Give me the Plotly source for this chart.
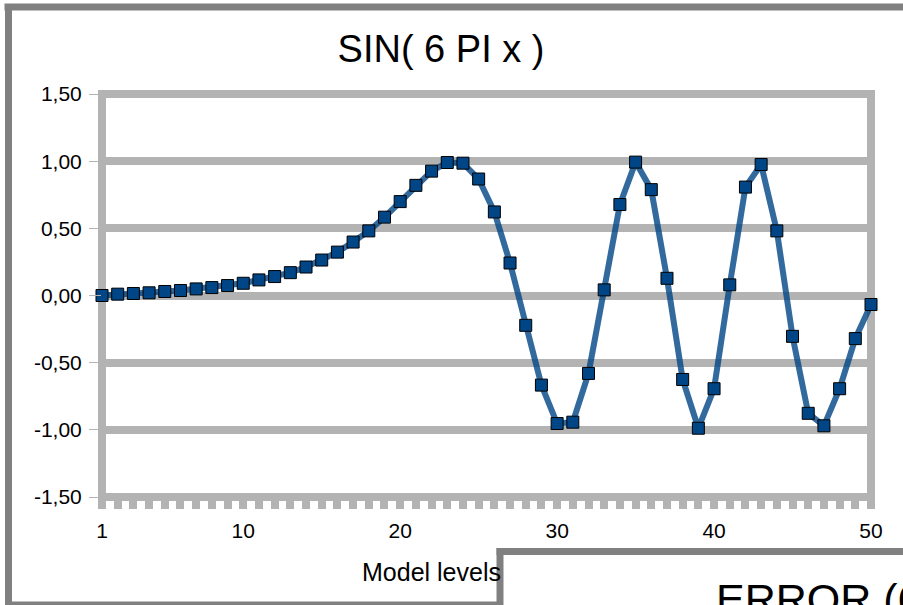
import plotly.graph_objects as go

# ---- data ----
levels = list(range(1, 51))
values = [0.00, 0.01, 0.015, 0.02, 0.03, 0.037, 0.049, 0.059, 0.074, 0.091,
          0.116, 0.141, 0.170, 0.212, 0.264, 0.323, 0.398, 0.481, 0.583, 0.699,
          0.82, 0.926, 0.99, 0.985, 0.867, 0.622, 0.242, -0.222, -0.667, -0.953,
          -0.943, -0.580, 0.042, 0.677, 0.993, 0.788, 0.128, -0.625, -0.988, -0.694,
          0.079, 0.807, 0.975, 0.481, -0.304, -0.877, -0.970, -0.694, -0.321, -0.067]
y_ticks = [-1.5, -1.0, -0.5, 0.0, 0.5, 1.0, 1.5]
y_tick_text = ["-1,50", "-1,00", "-0,50", "0,00", "0,50", "1,00", "1,50"]
x_ticks = [1, 10, 20, 30, 40, 50]
x_tick_text = ["1", "10", "20", "30", "40", "50"]
title_text = "SIN( 6 PI x )"
x_title = "Model levels"
second_title = "ERROR (6 PI x)"

# ---- geometry / style ----
W, H = 903, 605
L, R, T, B = 102, 871, 94, 497


def px(x):
    return (x - L) / (R - L)


def py(y):
    return (B - y) / (B - T)


GRID = "#b3b3b3"
FRAME = "#808080"
FONT = "Liberation Sans, Arial, sans-serif"

fig = go.Figure()
fig.add_trace(go.Scatter(
    x=levels, y=values, mode="lines+markers", cliponaxis=False,
    line=dict(color="rgba(0,69,134,0.8)", width=6),
    marker=dict(symbol="square", size=12, color="#004586",
                line=dict(color="#000000", width=1)),
    showlegend=False,
))


def hline(x0, x1, y, color, width, layer="below"):
    return dict(type="line", xref="paper", yref="paper", x0=px(x0), x1=px(x1),
                y0=py(y), y1=py(y), line=dict(color=color, width=width), layer=layer)


def vline(x, y0, y1, color, width, layer="below"):
    return dict(type="line", xref="paper", yref="paper", x0=px(x), x1=px(x),
                y0=py(y0), y1=py(y1), line=dict(color=color, width=width), layer=layer)


shapes = [
    # outer chart frame (right side lies beyond the picture)
    hline(4.5, 903, 7, FRAME, 7),
    vline(8.5, 4, 605, FRAME, 7),
    hline(5, 903, 605, FRAME, 7),
    # plot-area border lines
    vline(L, 508, 90, GRID, 8),
    vline(R, 508, 90, GRID, 8),
    hline(98, 875, B, GRID, 8),
    hline(98, 875, T, GRID, 8),
    # second (overlapping) chart, partly visible
    dict(type="rect", xref="paper", yref="paper", x0=px(500), x1=px(903), y0=py(551.5), y1=py(605),
         line=dict(width=0), fillcolor="white", layer="above"),
    hline(496.5, 903, 551.5, FRAME, 7, "above"),
    vline(500, 548, 605, FRAME, 7, "above"),
]

annotations = [
    dict(text=x_title, xref="paper", yref="paper", x=px(360), y=py(571.5),
         xanchor="left", yanchor="middle", showarrow=False,
         font=dict(size=25, color="black", family=FONT)),
    dict(text=second_title, xref="paper", yref="paper", x=px(714), y=py(599),
         xanchor="left", yanchor="middle", showarrow=False,
         font=dict(size=43, color="black", family=FONT)),
]

fig.update_layout(
    width=W, height=H,
    margin=dict(l=L, r=W - R, t=T, b=H - B, pad=0),
    paper_bgcolor="white", plot_bgcolor="white",
    font=dict(family=FONT, color="black"),
    showlegend=False,
    title=dict(text=title_text, xref="container", yref="container",
               x=441 / W, xanchor="center", y=1 - 48.5 / H, yanchor="middle",
               font=dict(size=38, color="black", family=FONT)),
    xaxis=dict(range=[1, 50], tickmode="array", tickvals=x_ticks, ticktext=x_tick_text,
               ticks="outside", ticklen=11, tickwidth=8, tickcolor=GRID,
               showgrid=False, zeroline=False, showline=False,
               ticklabelstandoff=4,
               tickfont=dict(size=21, color="black"),
               minor=dict(dtick=1, tick0=1, ticks="outside", ticklen=11, tickwidth=8,
                          tickcolor=GRID, showgrid=False)),
    yaxis=dict(range=[-1.5, 1.5], tickmode="array", tickvals=y_ticks, ticktext=y_tick_text,
               ticks="outside", ticklen=12, tickwidth=1, tickcolor=GRID,
               showgrid=True, gridwidth=8, gridcolor=GRID,
               zeroline=False, showline=False,
               ticklabelstandoff=3,
               tickfont=dict(size=21, color="black")),
    shapes=shapes,
    annotations=annotations,
)

fig.write_html("out.html",
               config={"displayModeBar": False},
               post_script="document.body.style.margin='0';document.body.style.overflow='hidden';")
